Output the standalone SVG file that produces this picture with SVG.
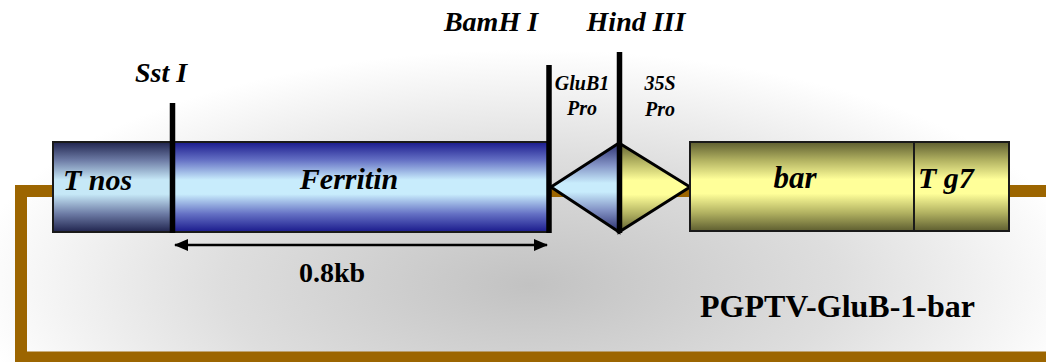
<svg xmlns="http://www.w3.org/2000/svg" width="1046" height="362" viewBox="0 0 1046 362">
<defs>
<radialGradient id="bg" cx="530" cy="285" r="560" gradientUnits="userSpaceOnUse" gradientTransform="translate(530 285) scale(1 0.42) translate(-530 -285)">
<stop offset="0" stop-color="#c2c2c2"/>
<stop offset="0.55" stop-color="#dedede"/>
<stop offset="1" stop-color="#ffffff"/>
</radialGradient>
<linearGradient id="gNos" x1="0" y1="0" x2="0" y2="1">
<stop offset="0" stop-color="#20244e"/>
<stop offset="0.2" stop-color="#6c7aa4"/>
<stop offset="0.42" stop-color="#c6e8f7"/>
<stop offset="0.58" stop-color="#c6e8f7"/>
<stop offset="0.8" stop-color="#6c7aa4"/>
<stop offset="1" stop-color="#20244e"/>
</linearGradient>
<linearGradient id="gFer" x1="0" y1="0" x2="0" y2="1">
<stop offset="0" stop-color="#1a1a8c"/>
<stop offset="0.2" stop-color="#6470c4"/>
<stop offset="0.42" stop-color="#c8ecfc"/>
<stop offset="0.58" stop-color="#c8ecfc"/>
<stop offset="0.8" stop-color="#6470c4"/>
<stop offset="1" stop-color="#1a1a8c"/>
</linearGradient>
<linearGradient id="gYel" x1="0" y1="0" x2="0" y2="1">
<stop offset="0" stop-color="#5e5e30"/>
<stop offset="0.2" stop-color="#b0b060"/>
<stop offset="0.42" stop-color="#ffff99"/>
<stop offset="0.58" stop-color="#ffff99"/>
<stop offset="0.8" stop-color="#b0b060"/>
<stop offset="1" stop-color="#5e5e30"/>
</linearGradient>
<linearGradient id="gTri" x1="0" y1="0" x2="0" y2="1">
<stop offset="0" stop-color="#2a2e6e"/>
<stop offset="0.25" stop-color="#8494c6"/>
<stop offset="0.45" stop-color="#c8ecfc"/>
<stop offset="0.55" stop-color="#c8ecfc"/>
<stop offset="0.75" stop-color="#8494c6"/>
<stop offset="1" stop-color="#2a2e6e"/>
</linearGradient>
<marker id="ah" viewBox="0 0 14 12" refX="13" refY="6" markerWidth="14" markerHeight="12" markerUnits="userSpaceOnUse" orient="auto-start-reverse">
<path d="M0,0 L14,6 L0,12 Z" fill="#000"/>
</marker>
<style>
.box{stroke:#1a1a1a;stroke-width:2}
.site{stroke:#000;stroke-width:5.5}
</style>
</defs>
<rect x="0" y="0" width="1046" height="362" fill="url(#bg)"/>
<g id="connectors">
<path d="M1060,191 H21 V357.5 H1060" fill="none" stroke="#9c6500" stroke-width="12"/>
<line x1="175" y1="245" x2="547" y2="245" stroke="#000" stroke-width="2.5" marker-start="url(#ah)" marker-end="url(#ah)"/>
</g>
<g font-family="'Liberation Serif', 'Times New Roman', serif" font-weight="bold" fill="#000">
<g font-style="italic">
<g id="tnos">
<rect class="box" x="53" y="142" width="119" height="90" fill="url(#gNos)"/>
<text x="63" y="190" font-size="30">T nos</text>
</g>
<g id="ferritin">
<rect class="box" x="172" y="142" width="377" height="90" fill="url(#gFer)"/>
<text x="349" y="189" font-size="30" text-anchor="middle">Ferritin</text>
</g>
<g id="glub1">
<polygon points="551,187 619,143 619,232" fill="url(#gTri)" stroke="#000" stroke-width="3"/>
<text x="582" y="90" font-size="20" text-anchor="middle">GluB1</text>
<text x="582" y="115" font-size="20" text-anchor="middle">Pro</text>
</g>
<g id="p35s">
<polygon points="619,143 690,187 619,232" fill="url(#gYel)" stroke="#000" stroke-width="3"/>
<text x="660" y="90" font-size="20" text-anchor="middle">35S</text>
<text x="660" y="116" font-size="20" text-anchor="middle">Pro</text>
</g>
<g id="bar">
<rect class="box" x="690" y="142" width="224" height="89" fill="url(#gYel)"/>
<text x="795" y="188" font-size="31" text-anchor="middle">bar</text>
</g>
<g id="tg7">
<rect class="box" x="914" y="142" width="95" height="89" fill="url(#gYel)"/>
<text x="918" y="188" font-size="30">T g7</text>
</g>
<g id="sites">
<line class="site" x1="172.5" y1="103" x2="172.5" y2="233"/>
<line class="site" x1="549" y1="65" x2="549" y2="233"/>
<line class="site" x1="619.5" y1="52" x2="619.5" y2="233"/>
<text x="161" y="82" font-size="28" text-anchor="middle">Sst I</text>
<text x="491" y="31" font-size="28" text-anchor="middle">BamH I</text>
<text x="636" y="31" font-size="28" text-anchor="middle">Hind III</text>
</g>
</g>
<g id="labels">
<text x="332" y="282" font-size="28" text-anchor="middle">0.8kb</text>
<text x="700" y="317" font-size="32" textLength="275" lengthAdjust="spacingAndGlyphs">PGPTV-GluB-1-bar</text>
</g>
</g>
</svg>
